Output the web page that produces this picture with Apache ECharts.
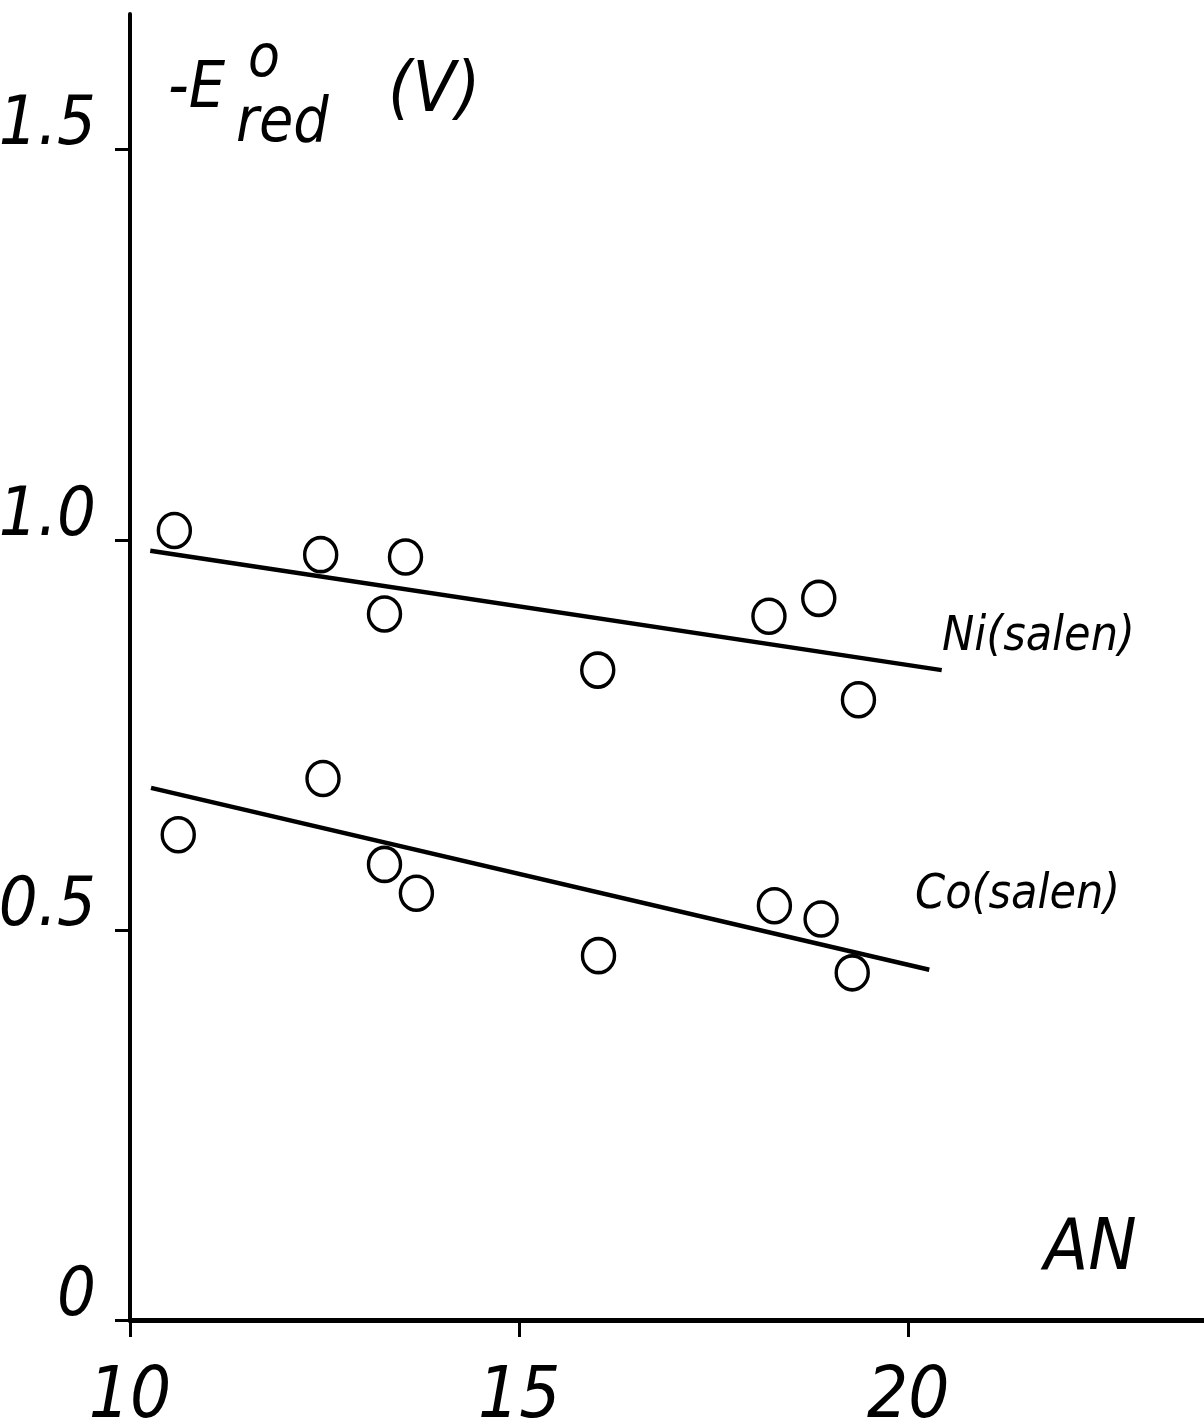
<!DOCTYPE html>
<html>
<head>
<meta charset="utf-8">
<script src="https://cdn.jsdelivr.net/npm/echarts@6/dist/echarts.min.js"></script>
<style>
html,body{margin:0;padding:0;background:#fff;}
#chart{width:1204px;height:1423px;}
</style>
</head>
<body>
<div id="chart"></div>
<script>
// Acceptor number (AN) of the solvent
var niAN  = [10.57, 12.45, 13.54, 13.27, 16.01, 18.21, 18.85, 19.36];
var niE   = [1.012, 0.981, 0.978, 0.905, 0.833, 0.902, 0.925, 0.795];
var coAN  = [10.62, 12.48, 13.27, 13.68, 16.02, 18.28, 18.88, 19.28];
var coE   = [0.622, 0.694, 0.584, 0.547, 0.467, 0.531, 0.514, 0.445];
// regression lines (end points)
var niFitAN = [10.26, 20.43];
var niFitE  = [0.986, 0.833];
var coFitAN = [10.27, 20.27];
var coFitE  = [0.682, 0.449];
var xTicks = [10, 15, 20];
var yTicks = [0, 0.5, 1.0, 1.5];
var yTickLabels = ['0', '0.5', '1.0', '1.5'];

function pairs(a, b) { return a.map(function (v, i) { return [v, b[i]]; }); }

var FONT = '"Liberation Sans Narrow", "DejaVu Sans Condensed", "Liberation Sans", sans-serif';
var chart = echarts.init(document.getElementById('chart'), null, {renderer: 'canvas'});

var option = {
  backgroundColor: '#ffffff',
  animation: false,
  grid: {left: 130, right: 0, top: 14, bottom: 103, containLabel: false, outerBoundsMode: 'none'},
  xAxis: {
    type: 'value', min: 10, max: 23.8, interval: 5,
    splitLine: {show: false},
    axisLine: {lineStyle: {color: '#000', width: 5}},
    axisTick: {show: true, length: 17, lineStyle: {color: '#000', width: 3}, customValues: xTicks},
    axisLabel: {
      customValues: xTicks, margin: 42, color: '#000',
      fontSize: 72, fontStyle: 'italic', fontFamily: FONT,
      formatter: function (v) { return String(v); }
    }
  },
  yAxis: {
    type: 'value', min: 0, max: 1.674, interval: 0.5,
    splitLine: {show: false},
    axisLine: {lineStyle: {color: '#000', width: 4}},
    axisTick: {show: true, length: 15, lineStyle: {color: '#000', width: 3}, customValues: yTicks},
    axisLabel: {
      customValues: yTicks, margin: 34, color: '#000',
      fontSize: 68, fontStyle: 'italic', fontFamily: FONT,
      verticalAlign: 'bottom', lineHeight: 46,
      formatter: function (v) {
        var i = yTicks.indexOf(Math.round(v * 10) / 10);
        return i >= 0 ? yTickLabels[i] : '';
      }
    }
  },
  series: [
    {
      name: 'Ni(salen) fit', type: 'line', data: pairs(niFitAN, niFitE),
      symbol: 'none', lineStyle: {color: '#000', width: 4.5}, z: 2
    },
    {
      name: 'Co(salen) fit', type: 'line', data: pairs(coFitAN, coFitE),
      symbol: 'none', lineStyle: {color: '#000', width: 4.5}, z: 2
    },
    {
      name: 'Ni(salen)', type: 'scatter', data: pairs(niAN, niE),
      symbol: 'circle', symbolSize: [32, 34],
      itemStyle: {color: '#fff', borderColor: '#000', borderWidth: 3.5, opacity: 1}, z: 3
    },
    {
      name: 'Co(salen)', type: 'scatter', data: pairs(coAN, coE),
      symbol: 'circle', symbolSize: [32, 34],
      itemStyle: {color: '#fff', borderColor: '#000', borderWidth: 3.5, opacity: 1}, z: 3
    }
  ],
  graphic: [
    {type: 'text', left: 168, top: 58, style: {text: '-E', font: 'italic 64px ' + FONT, fill: '#000'}},
    {type: 'text', left: 248, top: 32, style: {text: 'o', font: 'italic 58px ' + FONT, fill: '#000'}},
    {type: 'text', left: 236, top: 94, style: {text: 'red', font: 'italic 62px ' + FONT, fill: '#000'}},
    {type: 'text', left: 388, top: 58, style: {text: '(V)', font: 'italic 70px ' + FONT, fill: '#000'}},
    {type: 'text', left: 1044, top: 1214, style: {text: 'AN', font: 'italic 72px ' + FONT, fill: '#000'}},
    {type: 'text', left: 942, top: 614, style: {text: 'Ni(salen)', font: 'italic 48px ' + FONT, fill: '#000'}},
    {type: 'text', left: 915, top: 872, style: {text: 'Co(salen)', font: 'italic 48px ' + FONT, fill: '#000'}}
  ]
};
chart.setOption(option);
</script>
</body>
</html>
